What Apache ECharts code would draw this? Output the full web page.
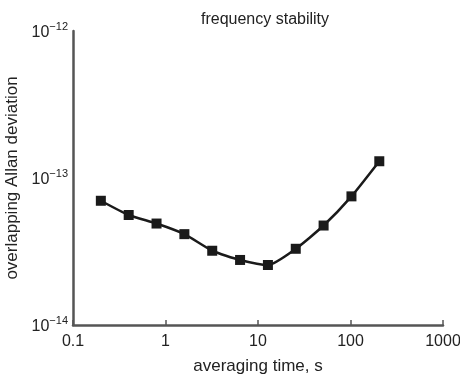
<!DOCTYPE html>
<html>
<head>
<meta charset="utf-8">
<script src="https://cdn.jsdelivr.net/npm/echarts@6/dist/echarts.min.js"></script>
<style>html,body{margin:0;padding:0;background:#fff}#c{width:460px;height:375px}</style>
</head>
<body>
<div id="c"></div>
<script>
const tau = [0.2, 0.4, 0.8, 1.6, 3.2, 6.4, 12.8, 25.6, 51.2, 102.4, 204.8];
const adev = [7.0e-14, 5.6e-14, 4.9e-14, 4.15e-14, 3.2e-14, 2.77e-14, 2.56e-14, 3.3e-14, 4.75e-14, 7.5e-14, 1.3e-13];
const xTickLabels = {"0.1": "0.1", "1": "1", "10": "10", "100": "100", "1000": "1000"};
const yExponents = [-14, -13, -12];

const chart = echarts.init(document.getElementById('c'), null, {renderer: 'canvas'});
const font = 'Liberation Sans, Arial, sans-serif';
const ink = '#222';
chart.setOption({
  animation: false,
  textStyle: {fontFamily: font},
  title: {
    text: 'frequency stability', left: 260, top: 7, textAlign: 'center',
    textStyle: {fontSize: 16, fontWeight: 'normal', color: ink, fontFamily: font}
  },
  grid: {left: 73, right: 17, top: 31, bottom: 50, outerBoundsMode: 'none', containLabel: false},
  xAxis: {
    type: 'log', logBase: 10, min: 0.1, max: 1000,
    name: 'averaging time, s', nameLocation: 'middle', nameGap: 33,
    nameTextStyle: {fontSize: 17, color: ink, fontFamily: font},
    axisLine: {lineStyle: {color: '#555', width: 2.5}},
    axisTick: {show: true, inside: true, length: 5, lineStyle: {color: '#555', width: 1.5}},
    minorTick: {show: false},
    splitLine: {show: false},
    axisLabel: {
      fontSize: 16, color: ink, margin: 9, fontFamily: font,
      formatter: v => { const k = String(Number(v.toPrecision(3))); return xTickLabels[k] !== undefined ? xTickLabels[k] : k; }
    }
  },
  yAxis: {
    type: 'log', logBase: 10, min: 1e-14, max: 1e-12,
    name: 'overlapping Allan deviation', nameLocation: 'middle', nameGap: 47,
    nameTextStyle: {fontSize: 17, color: ink, fontFamily: font},
    axisLine: {show: true, lineStyle: {color: '#555', width: 2.5}},
    axisTick: {show: false},
    splitLine: {show: false},
    axisLabel: {
      margin: 5, fontFamily: font,
      formatter: v => {
        const e = Math.round(Math.log10(v));
        return yExponents.includes(e) ? '{b|10}{s|\u2212' + Math.abs(e) + '}' : '';
      },
      rich: {
        b: {fontSize: 16, color: ink, fontFamily: font, verticalAlign: 'bottom'},
        s: {fontSize: 11, color: ink, fontFamily: font, verticalAlign: 'top', padding: [0, 0, 9, 0]}
      }
    }
  },
  series: [{
    type: 'line',
    data: tau.map((t, i) => [t, adev[i]]),
    symbol: 'rect', symbolSize: 10,
    lineStyle: {color: '#1a1a1a', width: 2.5},
    itemStyle: {color: '#1a1a1a'},
    smooth: 0.2
  }]
});
</script>
</body>
</html>
